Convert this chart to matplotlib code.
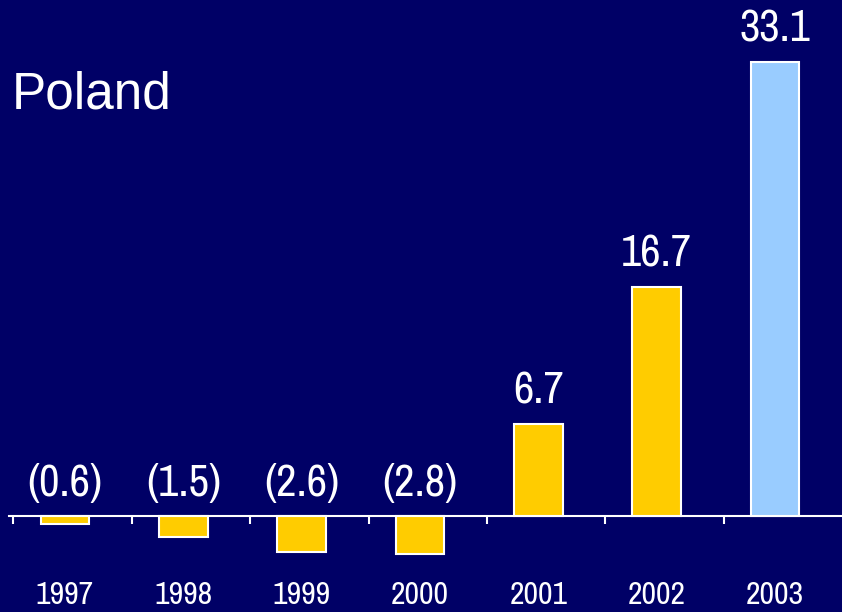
import matplotlib
matplotlib.use("Agg")
import matplotlib.pyplot as plt
from matplotlib import font_manager
import numpy as np

# data
years = ["1997", "1998", "1999", "2000", "2001", "2002", "2003"]
values = [-0.6, -1.5, -2.6, -2.8, 6.7, 16.7, 33.1]
labels = ["(0.6)", "(1.5)", "(2.6)", "(2.8)", "6.7", "16.7", "33.1"]
colors = ["#FFCC00"] * 6 + ["#99CCFF"]

bg = "#000066"
names = sorted({f.name for f in font_manager.fontManager.ttflist})
narrow = [n for n in names if "Narrow" in n or "Condensed" in n]
print(narrow)
cond = narrow[:1] + ["DejaVu Sans"]

fig = plt.figure(figsize=(8.42, 6.12), dpi=100, facecolor=bg)
ax = fig.add_axes([9 / 842, 0, 833 / 842, 1])
ax.set_facecolor(bg)

x = np.arange(len(years))
ax.bar(x, values, width=0.41, color=colors, edgecolor="white", linewidth=1.5, zorder=3)

ax.set_xlim(-0.473, 6.566)
ax.set_ylim(-7.0, 37.66)

# axis line with tick marks between the bars
for s in ["top", "right", "left"]:
    ax.spines[s].set_visible(False)
ax.spines["bottom"].set_position(("data", 0))
ax.spines["bottom"].set_color("white")
ax.spines["bottom"].set_linewidth(1.5)
ax.set_xticks(x - 0.435)
ax.set_xticklabels([])
ax.tick_params(axis="x", colors="white", direction="out", length=6, width=1.5)
ax.set_yticks([])

# value labels
for xi, v, lab in zip(x, values, labels):
    base = max(v, 0)
    ax.annotate(lab, (xi, base), xytext=(0, 9), textcoords="offset points",
                ha="center", va="bottom", color="white", fontsize=32,
                family=cond, stretch="condensed")

# year labels
for xi, yr in zip(x, years):
    ax.text(xi, -5.77, yr, ha="center", va="center", color="white",
            fontsize=23, family=cond, stretch="condensed")

fig.text(12 / 842, 1 - 95 / 612, "Poland", ha="left", va="center",
         color="white", fontsize=37, family=["Liberation Sans", "DejaVu Sans"])

fig.savefig("out.png", dpi=100, facecolor=bg)
